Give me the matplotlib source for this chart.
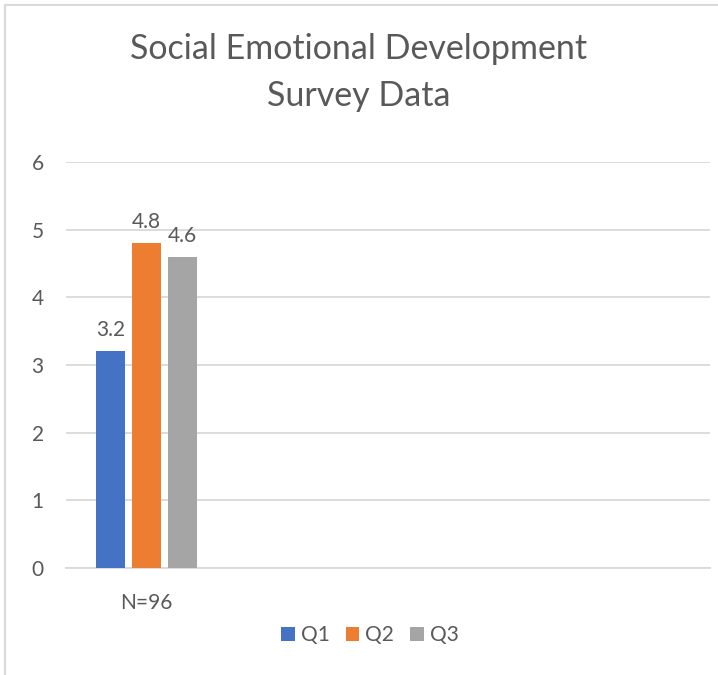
import matplotlib.pyplot as plt
from matplotlib.lines import Line2D
import numpy as np

plt.rcParams['font.family'] = ['Lato', 'DejaVu Sans']

categories = ['N=96', '', '', '']
series = ['Q1', 'Q2', 'Q3']
values = {
    'Q1': [3.2, np.nan, np.nan, np.nan],
    'Q2': [4.8, np.nan, np.nan, np.nan],
    'Q3': [4.6, np.nan, np.nan, np.nan],
}
colors = ['#4472C4', '#ED7D31', '#A5A5A5']
text_col = '#595959'
grid_col = '#D9D9D9'

fig = plt.figure(figsize=(7.18, 6.75), dpi=100)
ax = fig.add_axes([66 / 718, 1 - 568 / 675, (710 - 66) / 718, (568 - 162) / 675])

x = np.arange(len(categories))
width = 0.18
step = 0.225
for i, s in enumerate(series):
    bars = ax.bar(x + (i - 1) * step, values[s], width, color=colors[i], label=s, zorder=3)
    for b, v in zip(bars, values[s]):
        if not np.isnan(v):
            ax.annotate(f'{v:g}', (b.get_x() + b.get_width() / 2, v), xytext=(0, 8),
                        textcoords='offset points', ha='center', va='bottom',
                        fontsize=15, color=text_col)

ax.set_xlim(-0.5, len(categories) - 0.5)
ax.set_ylim(0, 6)
ax.set_yticks(range(0, 7))
ax.set_xticks(x)
ax.set_xticklabels(categories)
ax.tick_params(length=0, labelsize=15, labelcolor=text_col)
ax.tick_params(axis='y', pad=16)
ax.tick_params(axis='x', pad=18)
ax.grid(axis='y', color=grid_col, linewidth=1.3, zorder=0)
for sp in ['top', 'right', 'left']:
    ax.spines[sp].set_visible(False)
ax.spines['bottom'].set_color(grid_col)
ax.spines['bottom'].set_linewidth(1.3)

fig.text(0.5, 1 - 49 / 675, 'Social Emotional Development', ha='center', va='center',
         fontsize=24.5, color=text_col)
fig.text(0.5, 1 - 96 / 675, 'Survey Data', ha='center', va='center',
         fontsize=24.5, color=text_col)

fig.legend(loc='center', bbox_to_anchor=(370 / 718, 1 - 635 / 675), ncol=3, frameon=False,
           fontsize=15, labelcolor=text_col, handlelength=0.65, handleheight=0.65,
           handletextpad=0.3, columnspacing=0.75)

fig.add_artist(Line2D([5 / 718, 1], [1 - 5 / 675] * 2, color=grid_col, linewidth=1.5))
fig.add_artist(Line2D([5 / 718] * 2, [0, 1 - 5 / 675], color=grid_col, linewidth=1.5))

fig.savefig('out.png', dpi=100)
